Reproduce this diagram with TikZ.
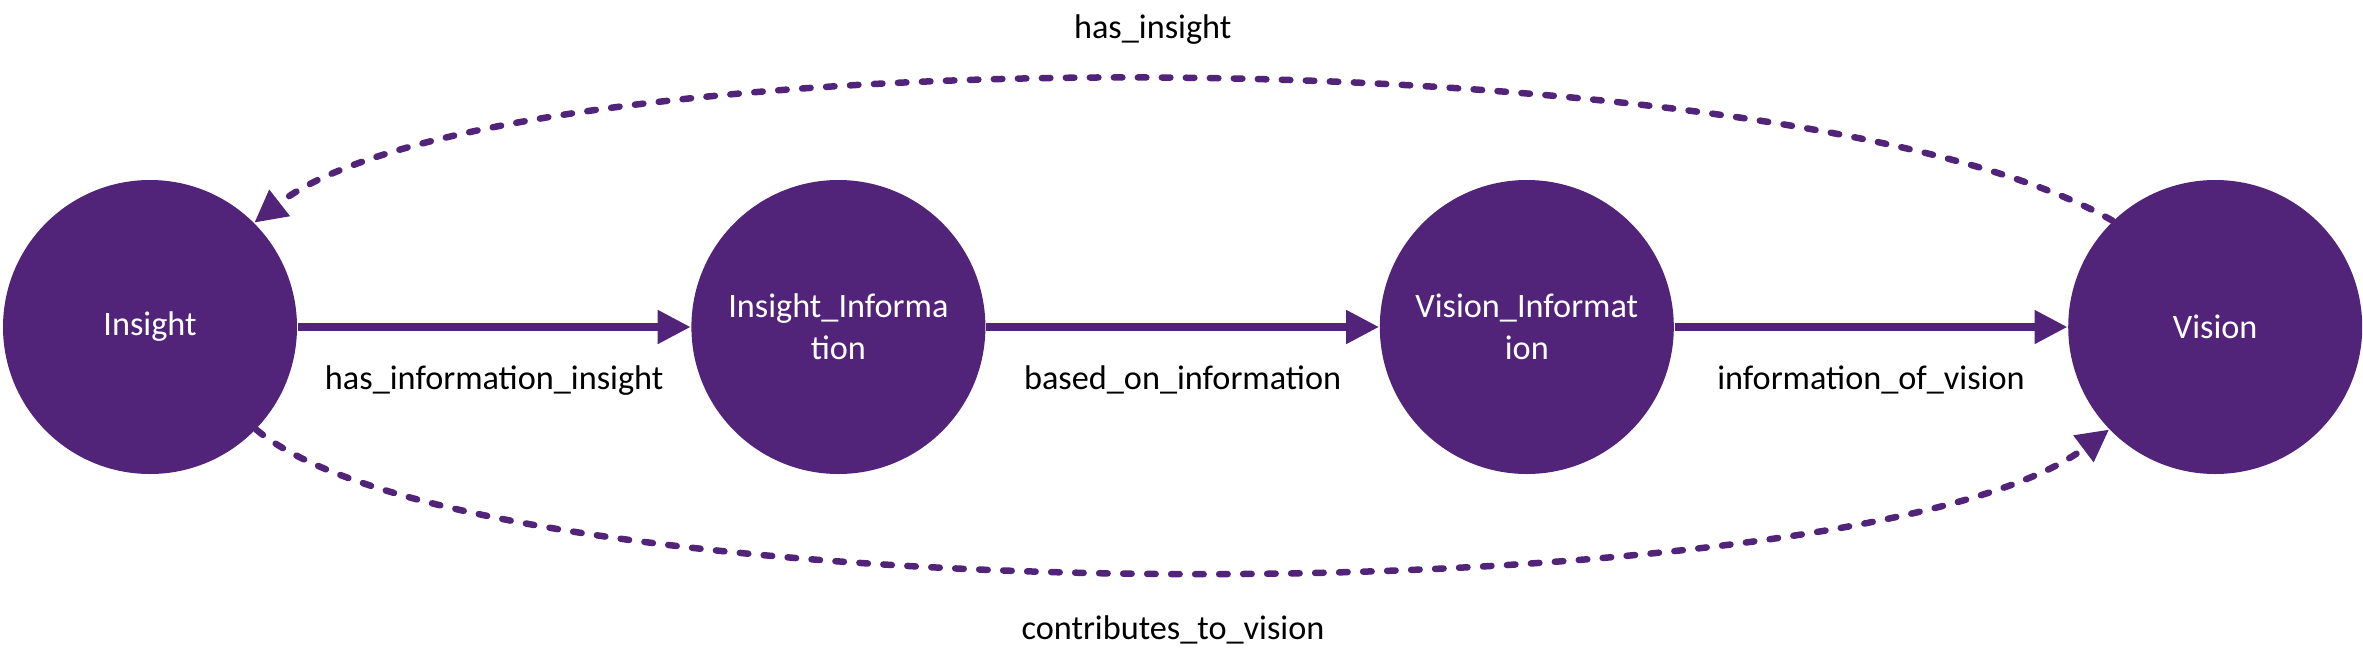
\documentclass[tikz,border=0pt]{standalone}
\usepackage{fontspec}
\setmainfont{Carlito}
\usepackage{tikz}
\usetikzlibrary{arrows.meta, positioning}
\definecolor{uqpurple}{RGB}{81,36,122}
\tikzstyle{concept_node} = [circle, minimum size=2.94cm, inner sep=0pt, fill=uqpurple, text=white, align=center, font=\fontsize{9.75}{12}\selectfont]
\tikzstyle{rel_arrow} = [uqpurple, line width=2.2pt, -{Triangle[length=0.33cm, width=0.32cm]}]
\tikzstyle{link_arrow} = [uqpurple, line width=1.85pt, line cap=round, dash pattern=on 0.085cm off 0.155cm, -{Triangle[length=0.32cm, width=0.32cm]}]
\tikzstyle{rel_label} = [font=\fontsize{9.75}{12}\selectfont, text=black, inner sep=0pt]

\begin{document}
\begin{tikzpicture}
\useasboundingbox (0,0) rectangle (23.63,6.6);
\node (insight) [concept_node] at (1.50,3.33) {Insight};
\node (insight_info) [concept_node, right=3.93cm of insight] {Insight\_Informa\\tion};
\node (vision_info) [concept_node, right=3.93cm of insight_info] {Vision\_Informat\\ion};
\node (vision) [concept_node, right=3.93cm of vision_info] {Vision};

\draw [rel_arrow] (insight) -- node[below=0.35cm, rel_label] {has\_information\_insight} (insight_info);
\draw [rel_arrow] (insight_info) -- node[below=0.35cm, rel_label] {based\_on\_information} (vision_info);
\draw [rel_arrow] (vision_info) -- node[below=0.35cm, rel_label] {information\_of\_vision} (vision);

\draw [link_arrow] (vision.134) .. controls +(150:3.76) and +(38:3.09) .. node[above=0.32cm, rel_label] {has\_insight} (insight.45);
\draw [link_arrow] (insight.-44) .. controls +(-40:2.95) and +(-143:3.15) .. node[below=0.41cm, rel_label] {contributes\_to\_vision} (vision.-136);
\end{tikzpicture}
\end{document}
